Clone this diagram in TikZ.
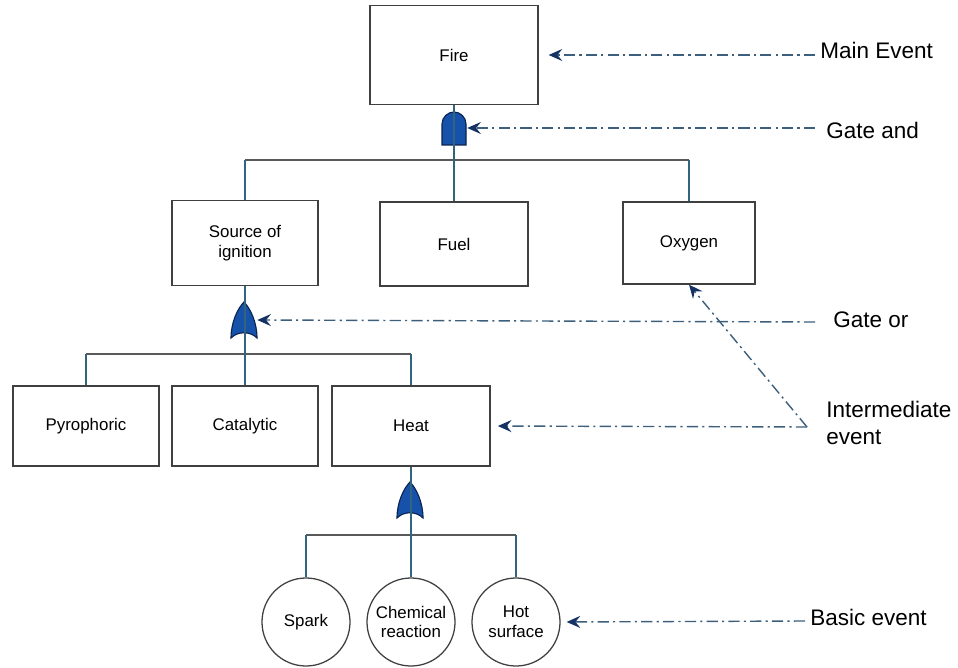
\documentclass[tikz,border=0pt]{standalone}
\usepackage{fontspec}
\setmainfont{Liberation Sans}
\usetikzlibrary{arrows.meta}
\definecolor{gateblue}{RGB}{22,82,170}
\definecolor{gateedge}{RGB}{10,35,80}
\definecolor{treeline}{RGB}{50,100,125}
\definecolor{notecol}{RGB}{60,95,125}
\definecolor{tipcol}{RGB}{20,50,100}

\begin{document}
\begin{tikzpicture}[x=0.025cm,y=-0.025cm,
    evt/.style={draw=black!75,line width=0.9pt,align=center,
      font=\fontsize{12}{14}\selectfont,inner sep=2pt},
    basic/.style={evt,circle,minimum size=2.2cm},
    gatespot/.style={inner sep=0,minimum width=0.65cm,minimum height=0.85cm},
    link/.style={treeline,line width=0.9pt},
    bar/.style={black!65,line width=0.9pt},
    note/.style={notecol,line width=1pt,
      dash pattern=on 8pt off 3pt on 1.5pt off 3pt,
      -{Stealth[length=3.4mm,width=3mm,inset=1.2mm,color=tipcol]}},
    lbl/.style={anchor=west,inner sep=0,align=left,
      font=\fontsize{16}{19}\selectfont},
    andgate/.pic={\filldraw[fill=gateblue,draw=gateedge,line width=0.8pt]
      (-12,0) -- (-12,-21) .. controls (-12,-28) and (-6,-33) .. (0,-33)
      .. controls (6,-33) and (12,-28) .. (12,-21) -- (12,0) -- cycle;},
    orgate/.pic={\filldraw[fill=gateblue,draw=gateedge,line width=0.8pt]
      (-13,0) .. controls (-13,-16) and (-6,-30) .. (0,-36)
      .. controls (6,-30) and (13,-16) .. (13,0)
      .. controls (6,-7) and (-6,-7) .. (-13,0) -- cycle;}]
  \useasboundingbox (0,0) rectangle (958,668);

  % events
  \node[evt,minimum width=4.2cm,minimum height=2.475cm] (fire) at (454,55) {Fire};
  \node[evt,minimum width=3.65cm,minimum height=2.125cm] (src) at (245,243) {Source of\\ignition};
  \node[evt,minimum width=3.7cm,minimum height=2.1cm] (fuel) at (454,244) {Fuel};
  \node[evt,minimum width=3.3cm,minimum height=2.05cm] (oxy) at (689,243) {Oxygen};
  \node[evt,minimum width=3.65cm,minimum height=2cm] (pyro) at (86,426) {Pyrophoric};
  \node[evt,minimum width=3.65cm,minimum height=2cm] (cata) at (245,426) {Catalytic};
  \node[evt,minimum width=3.95cm,minimum height=2cm] (heat) at (411,426) {Heat};
  \node[basic] (spark) at (306,622) {Spark};
  \node[basic] (chem) at (411,622) {Chemical\\reaction};
  \node[basic] (hot) at (516,622) {Hot\\surface};

  % gates
  \node[gatespot] (andg) at (454,128) {};
  \node[gatespot] (org) at (244,320) {};
  \node[gatespot] (heatg) at (410,500) {};
  \coordinate (b1) at (454,160);
  \coordinate (b2) at (245,354);
  \coordinate (b3) at (411,535);

  \draw[bar] (src.north |- b1) -- (oxy.north |- b1);
  \draw[bar] (pyro.north |- b2) -- (heat.north |- b2);
  \draw[bar] (spark.north |- b3) -- (hot.north |- b3);
  \pic at (454,145) {andgate};
  \pic at (244,338) {orgate};
  \pic at (410,518) {orgate};
  \draw[link] (fire.south) -- (fuel.north);
  \draw[link] (src.south) -- (cata.north);
  \draw[link] (heat.south) -- (chem.north);
  \foreach \n in {src,oxy}
    \draw[link] (\n.north) -- (\n.north |- b1);
  \foreach \n in {pyro,heat}
    \draw[link] (\n.north) -- (\n.north |- b2);
  \foreach \n in {spark,hot}
    \draw[link] (\n.north) -- (\n.north |- b3);

  % labels
  \node[lbl] (mainlbl) at (820,50) {Main Event};
  \node[lbl] (andlbl) at (826,130) {Gate and};
  \node[lbl] (orlbl) at (833,320) {Gate or};
  \node[lbl] (midlbl) at (826,423) {Intermediate\\event};
  \node[lbl] (basiclbl) at (810,617) {Basic event};
  \coordinate (mainend) at (815,55);
  \coordinate (andend) at (815,128);
  \coordinate (orend) at (815,322);
  \coordinate (midend) at (807,427);
  \coordinate (basicend) at (805,621);
  \draw[note,shorten >=0.25cm] (mainend) -- (fire.east);
  \draw[note] (andend) -- (andg.east);
  \draw[note] (orend) -- (org.east);
  \draw[note,shorten >=0.18cm] (midend) -- (heat.east);
  \draw[note] (midend) -- (oxy.south);
  \draw[note,shorten >=0.15cm] (basicend) -- (hot.east);
\end{tikzpicture}
\end{document}
